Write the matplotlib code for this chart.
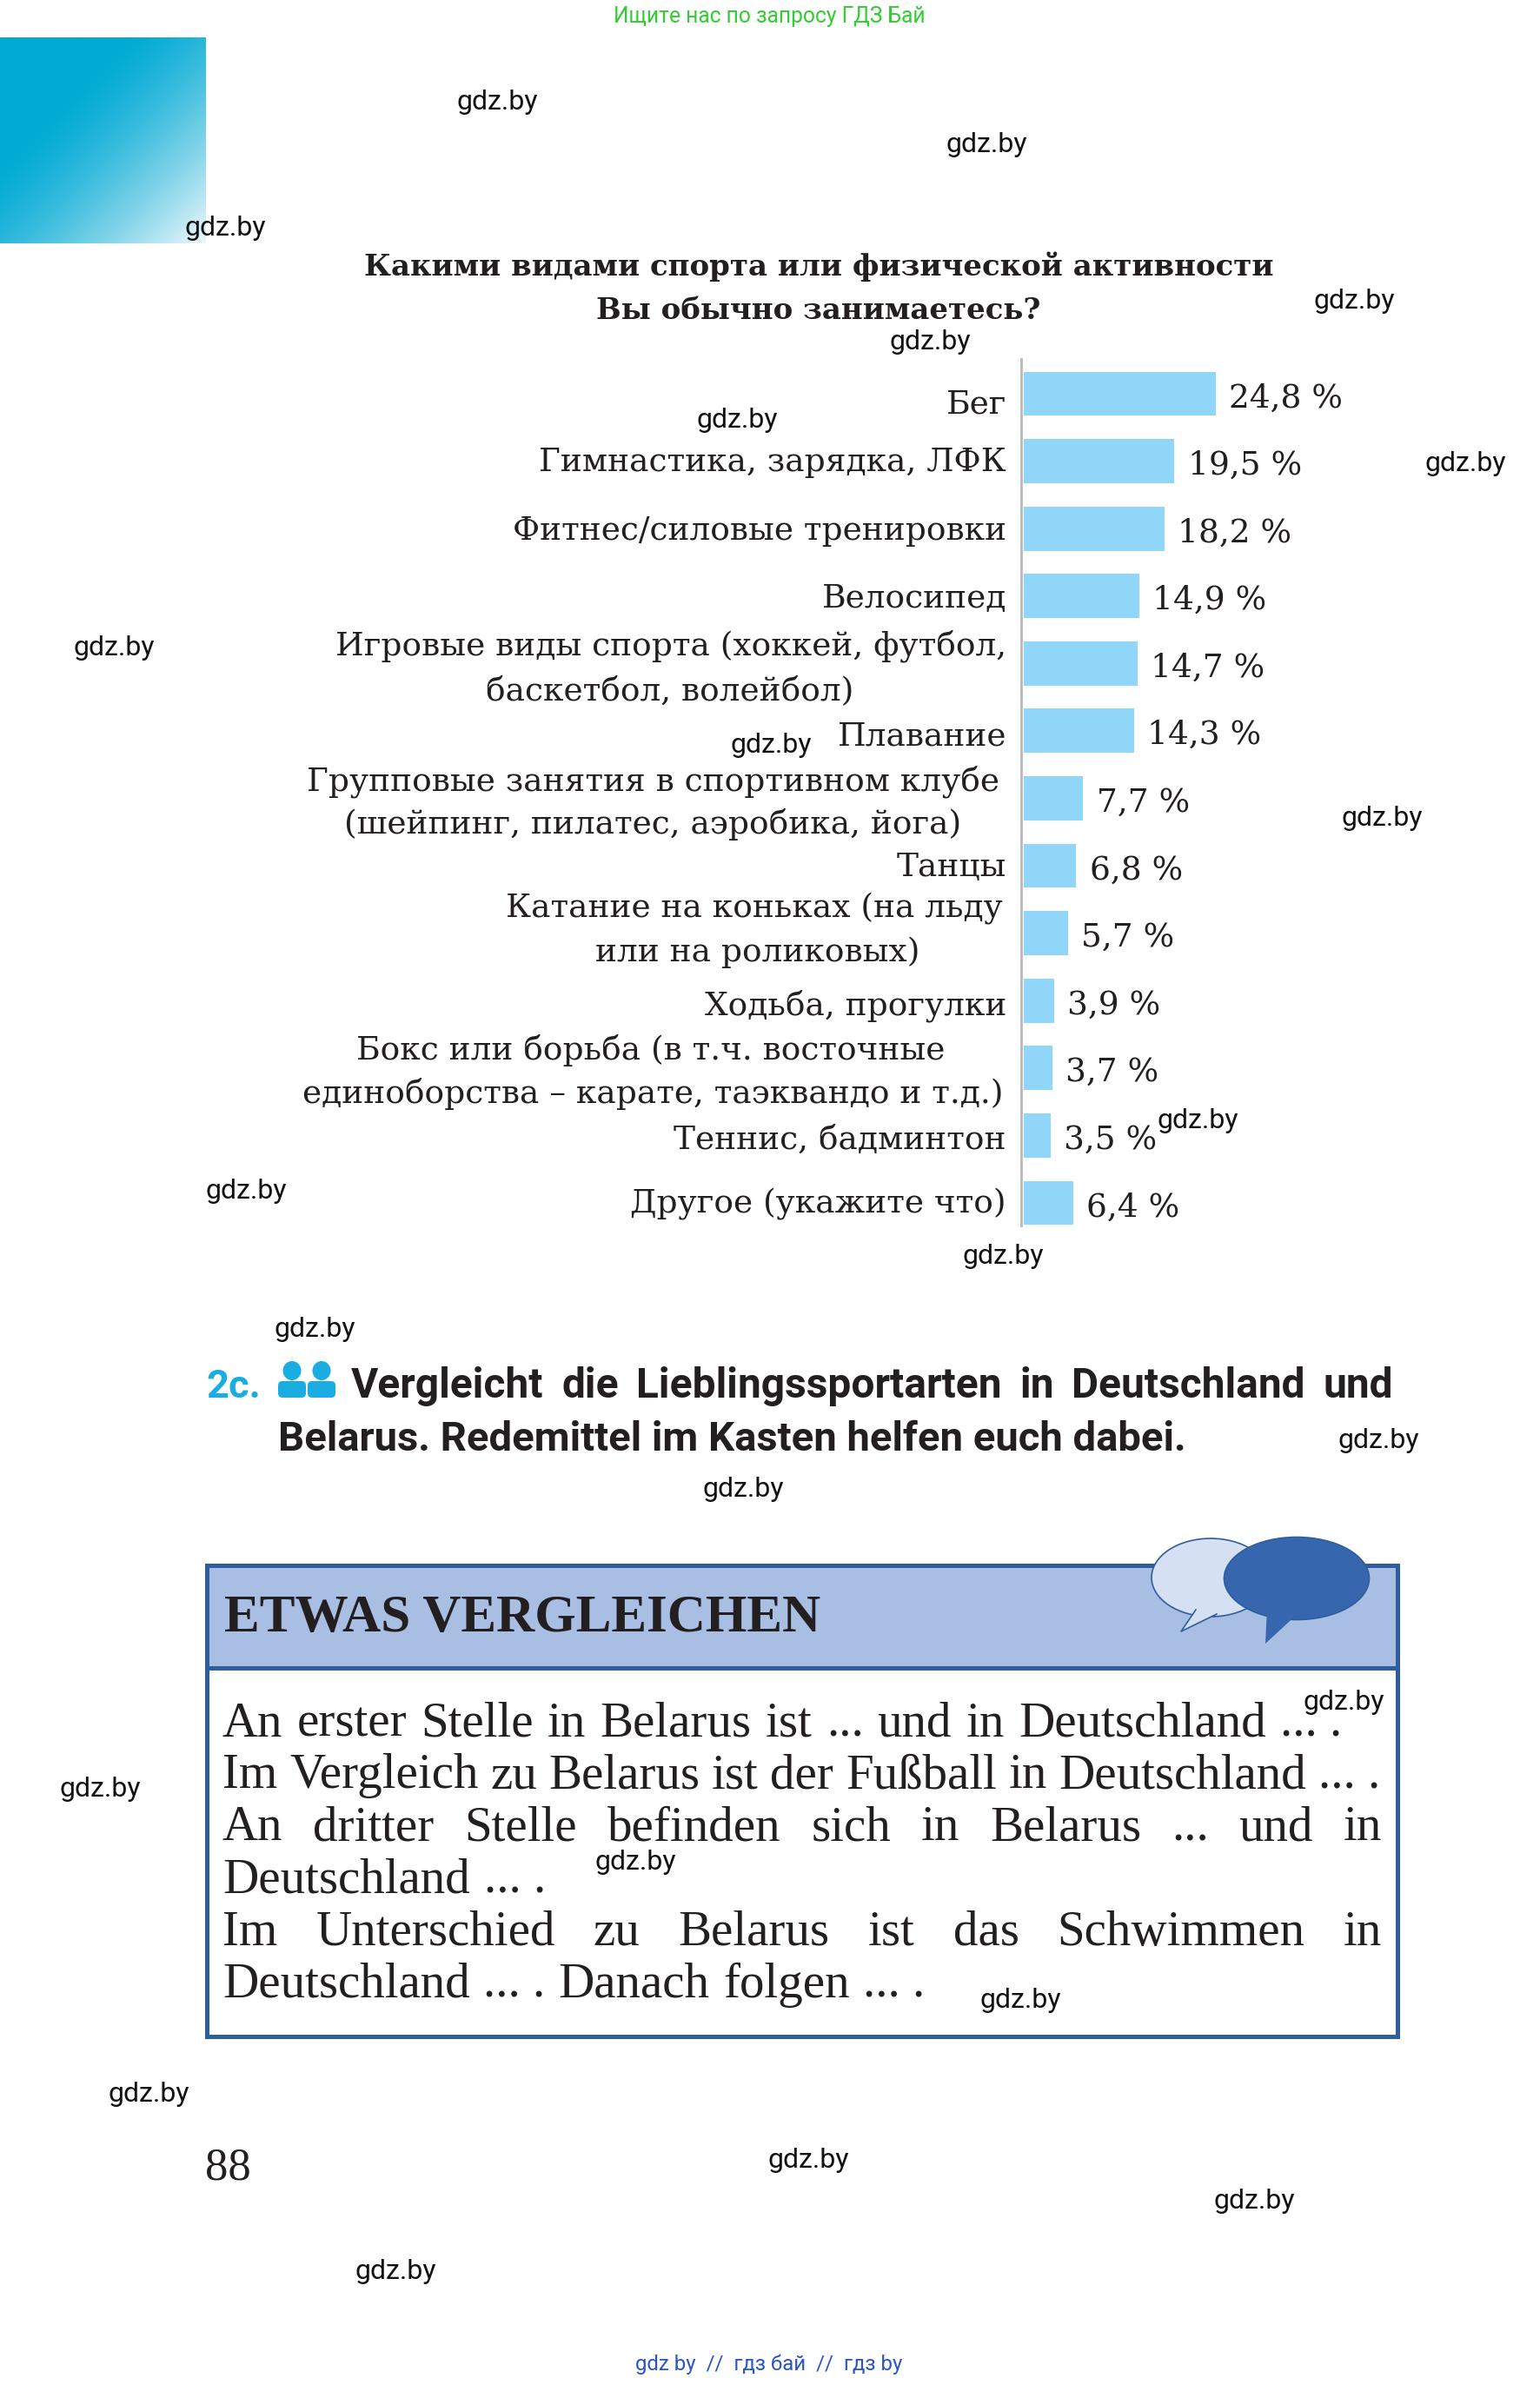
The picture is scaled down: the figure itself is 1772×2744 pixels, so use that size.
import numpy as np
import matplotlib
matplotlib.use('Agg')
import matplotlib.pyplot as plt
from matplotlib.patches import Rectangle, Ellipse, Polygon, FancyBboxPatch

W, H = 1772, 2744

# chart data
categories = ['Бег', 'Гимнастика', 'Фитнес', 'Велосипед', 'Игровые виды', 'Плавание', 'Групповые занятия',
              'Танцы', 'Катание', 'Ходьба', 'Бокс', 'Теннис', 'Другое']
values = [24.8, 19.5, 18.2, 14.9, 14.7, 14.3, 7.7, 6.8, 5.7, 3.9, 3.7, 3.5, 6.4]

title_lines = ['Какими видами спорта или физической активности', 'Вы обычно занимаетесь?']

# category label lines: text, right edge, baseline
label_lines = [
    ('Бег', 1158, 475),
    ('Гимнастика, зарядка, ЛФК', 1158, 542),
    ('Фитнес/силовые тренировки', 1158, 621),
    ('Велосипед', 1158, 699),
    ('Игровые виды спорта (хоккей, футбол,', 1158, 754),
    ('баскетбол, волейбол)', 982, 805),
    ('Плавание', 1158, 858),
    ('Групповые занятия в спортивном клубе', 1150, 910),
    ('(шейпинг, пилатес, аэробика, йога)', 1106, 959),
    ('Танцы', 1158, 1008),
    ('Катание на коньках (на льду', 1154, 1055),
    ('или на роликовых)', 1059, 1106),
    ('Ходьба, прогулки', 1158, 1167),
    ('Бокс или борьба (в т.ч. восточные', 1087, 1219),
    ('единоборства – карате, таэквандо и т.д.)', 1155, 1269),
    ('Теннис, бадминтон', 1158, 1322),
    ('Другое (укажите что)', 1158, 1395),
]

box_lines = [
    ('An erster Stelle in Belarus ist ... und in Deutschland ...\u00a0.', 1544, 1998),
    ('Im Vergleich zu Belarus ist der Fußball in Deutschland ...\u00a0.', 1588, 2057),
    ('An dritter Stelle befinden sich in Belarus ... und in', 1590, 2117),
    ('Deutschland ...\u00a0.', 628, 2177),
    ('Im Unterschied zu Belarus ist das Schwimmen in', 1590, 2238),
    ('Deutschland ...\u00a0. Danach folgen ...\u00a0.', 1064, 2298),
]

watermarks = [(327, 66), (649, 94), (148, 149), (891, 197), (612, 224), (485, 275), (964, 304), (75, 425),
              (507, 489), (909, 537), (788, 736), (162, 782), (660, 825), (207, 873), (907, 946), (489, 978),
              (884, 1118), (66, 1175), (418, 1223), (671, 1314), (98, 1376), (532, 1419), (825, 1446), (260, 1492)]

fig = plt.figure(figsize=(W / 100, H / 100), dpi=100, facecolor='white')
page = fig.add_axes([0, 0, 1, 1])
page.set_xlim(0, W)
page.set_ylim(H, 0)
page.axis('off')
renderer = fig.canvas.get_renderer()


def justify(text, x0, x1, y, **kw):
    # spread the words so the line runs from x0 to x1
    words = text.split(' ')
    parts = [page.text(0, y, w, va='baseline', **kw) for w in words]
    widths = [p.get_window_extent(renderer).width for p in parts]
    gap = (x1 - x0 - sum(widths)) / (len(words) - 1)
    x = x0
    for p, w in zip(parts, widths):
        p.set_x(x)
        x += w + gap


# corner gradient
gx, gy = np.meshgrid(np.linspace(0, 1, 120), np.linspace(0, 1, 120))
g = np.clip((gx + gy - 0.6) / 1.4, 0, 1) ** 1.4
c0, c1 = np.array([0, 170, 212]), np.array([238, 248, 252])
img = (c0 + (c1 - c0) * g[..., None]) / 255
page.imshow(img, extent=(0, 237, 280, 43), aspect='auto', zorder=1)
page.set_xlim(0, W)
page.set_ylim(H, 0)

# title
for line, base in zip(title_lines, [317, 367]):
    page.text(942, base, line, family='DejaVu Serif', fontweight='bold', fontsize=24.5, ha='center',
              va='baseline', color='#231f20')

# bars
ax = fig.add_axes([1175 / W, 1 - 1410 / H, 420 / W, 997 / H])
ax.patch.set_alpha(0)
ax.barh(range(len(values)), values, height=0.655, color='#8fd6f8')
ax.set_xlim(-0.33, -0.33 + 420 / 8.9)
ax.set_ylim(12.335, -0.515)
for s in ['top', 'right', 'bottom']:
    ax.spines[s].set_visible(False)
ax.spines['left'].set_color('#b9b9b9')
ax.spines['left'].set_linewidth(2)
ax.set_xticks([])
ax.set_yticks([])
for i, v in enumerate(values):
    ax.annotate(f'{v:.1f} %'.replace('.', ','), (v, i), xytext=(11, -11), textcoords='offset points',
                family='DejaVu Serif', fontsize=27, va='baseline', color='#231f20')

for text, x, base in label_lines:
    page.text(x, base, text, family='DejaVu Serif', fontsize=27, ha='right', va='baseline', color='#231f20')

# task heading
page.text(237, 1608, '2c.', family='Roboto', fontweight='bold', fontsize=32.5, va='baseline', color='#19ade2')
for x0 in (320, 354):
    page.add_patch(Ellipse((x0 + 16, 1577), 21, 22, color='#19ade2', lw=0))
    page.add_patch(FancyBboxPatch((x0 + 5, 1594), 22, 9, boxstyle='round,pad=5', color='#19ade2', lw=0))
justify('Vergleicht die Lieblingssportarten in Deutschland und', 404, 1603, 1608, family='Roboto', fontweight='bold',
        fontsize=34.5, color='#231f20')
page.text(320, 1669, 'Belarus. Redemittel im Kasten helfen euch dabei.', family='Roboto', fontweight='bold', fontsize=34,
          va='baseline', color='#231f20')

# box
page.add_patch(Rectangle((238, 1801), 1370, 118, facecolor='#a9bee3', edgecolor='none'))
page.add_patch(Rectangle((238, 1801), 1370, 542, facecolor='none', edgecolor='#2f5e9e', linewidth=3.6))
page.plot([238, 1608], [1919, 1919], color='#2f5e9e', lw=3.6)
page.add_patch(Ellipse((1393, 1815), 136, 90, facecolor='#d5e1f2', edgecolor='#2f5e9e', lw=1.2))
page.add_patch(Polygon([(1376, 1852), (1359, 1877), (1400, 1857)], facecolor='#d5e1f2', edgecolor='none'))
page.plot([1376, 1359, 1400], [1852, 1877, 1857], color='#2f5e9e', lw=1.2)
page.add_patch(Ellipse((1492, 1816), 167, 95, facecolor='#3566ae', edgecolor='#2f5e9e', lw=1.2))
page.add_patch(Polygon([(1458, 1850), (1456, 1891), (1495, 1855)], facecolor='#3566ae', edgecolor='none'))
page.text(258, 1877, 'ETWAS VERGLEICHEN', family='Liberation Serif', fontweight='bold', fontsize=44, va='baseline',
          color='#231f20')
for text, x1, base in box_lines:
    justify(text, 256, x1, base, family='Liberation Serif', fontsize=41, color='#231f20')

page.text(236, 2508, '88', family='Liberation Serif', fontsize=38, va='baseline', color='#231f20')

# watermarks and site lines
for wx, wy in watermarks:
    page.text(wx * W / 1013, wy * H / 1568 + 2, 'gdz.by', family='Roboto', fontsize=23, ha='center', va='center',
              color='#111111', zorder=5)
page.text(885, 19, 'Ищите нас по запросу ГДЗ Бай', family='Roboto', fontsize=17.7, ha='center', va='center',
          color='#33cc33')
page.text(885, 2720, 'gdz by  //  гдз бай  //  гдз by', family='Roboto', fontsize=17.3, ha='center', va='center',
          color='#2a55c8')

fig.savefig('out.png', dpi=100)
